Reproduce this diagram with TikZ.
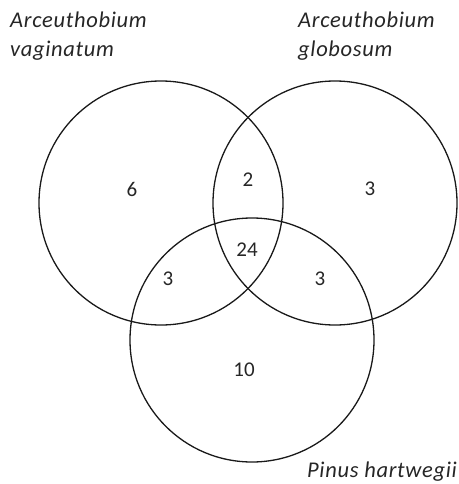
\documentclass[tikz,border=0pt]{standalone}
\usepackage{fontspec}
\setmainfont{Carlito}
\newfontfamily\labfont[LetterSpace=3]{Carlito}
\begin{document}
\begin{tikzpicture}[x=1pt,y=-1pt,
  ring/.style={draw=black!90,line width=1.3pt},
  num/.style={font=\fontsize{21}{24}\selectfont,text=black!85,inner sep=0pt},
  lab/.style={font=\labfont\fontsize{22.5}{29}\selectfont\itshape,text=black!85,inner sep=0pt,align=left}]
\useasboundingbox (0,0) rectangle (458,484);
\node[ring,circle,minimum size=244pt,inner sep=0pt] (A) at (161,203) {};
\node[ring,circle,minimum size=244pt,inner sep=0pt] (B) at (335,203) {};
\node[ring,circle,minimum size=244pt,inner sep=0pt] (C) at (252,340) {};
\node[num] (n6) at (132,189) {6};
\node[num] (n2) at (248,180) {2};
\node[num] (n3a) at (370,189) {3};
\node[num] (n24) at (247,250) {24};
\node[num] (n3b) at (168,279) {3};
\node[num] (n3c) at (320,279) {3};
\node[num] (n10) at (244,370) {10};
\node[lab,anchor=base west] (la) at (10,28) {Arceuthobium};
\node[lab,anchor=base west] (la2) at (10,57) {vaginatum};
\node[lab,anchor=base west] (lb) at (298,28) {Arceuthobium};
\node[lab,anchor=base west] (lb2) at (298,57) {globosum};
\node[lab,anchor=base west] (lc) at (307,477) {Pinus hartwegii};
\end{tikzpicture}
\end{document}
